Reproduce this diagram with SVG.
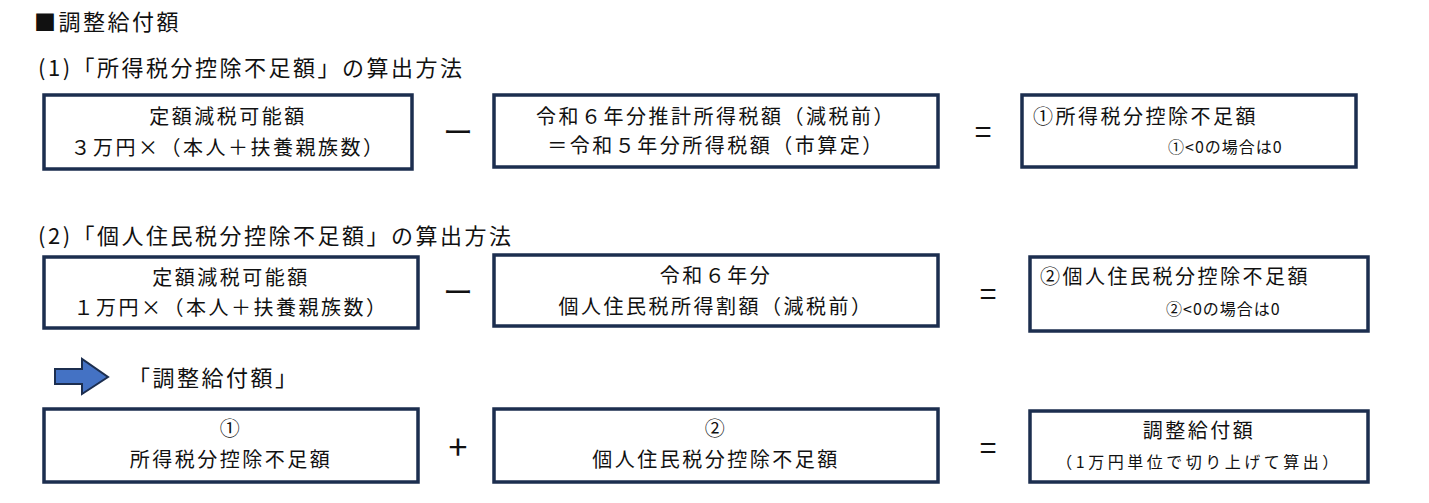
<svg xmlns="http://www.w3.org/2000/svg" width="1429" height="503" viewBox="0 0 1429 503">
<style>
.b{fill:#fff;stroke:#1c2e4f;stroke-width:3.5}
text{font-family:"Noto Sans CJK JP","Noto Sans",sans-serif;font-size:20px;fill:#111;letter-spacing:2.5px}
.h{font-size:22px}
.c{text-anchor:middle}
.s{font-size:16px;letter-spacing:1px}
.w{font-size:16px;letter-spacing:3.5px}
.op{font-size:30px;text-anchor:middle;letter-spacing:0}
</style>
<rect width="1429" height="503" fill="#fff"/>
<text class="h" x="34" y="30">■調整給付額</text>
<text class="h" x="38" y="76">(1)「所得税分控除不足額」の算出方法</text>
<text class="h" x="38" y="244">(2)「個人住民税分控除不足額」の算出方法</text>
<text class="h" x="128" y="386">「調整給付額」</text>
<g id="n1"><rect class="b" x="44" y="95" width="368" height="74"/><text class="c" x="228" y="124">定額減税可能額</text><text class="c" x="228" y="155">３万円×（本人＋扶養親族数）</text></g>
<g id="n2"><rect class="b" x="494" y="95" width="444" height="72"/><text class="c" x="716" y="124">令和６年分推計所得税額（減税前）</text><text class="c" x="716" y="153">＝令和５年分所得税額（市算定）</text></g>
<g id="n3"><rect class="b" x="1022" y="95" width="334" height="72"/><text x="1033" y="124">①所得税分控除不足額</text><text class="s" x="1168" y="153">①&lt;0の場合は0</text></g>
<g id="n4"><rect class="b" x="44" y="257" width="374" height="71"/><text class="c" x="231" y="285">定額減税可能額</text><text class="c" x="231" y="315">１万円×（本人＋扶養親族数）</text></g>
<g id="n5"><rect class="b" x="494" y="255" width="444" height="71"/><text class="c" x="716" y="283">令和６年分</text><text class="c" x="716" y="314">個人住民税所得割額（減税前）</text></g>
<g id="n6"><rect class="b" x="1030" y="257" width="338" height="74"/><text x="1040" y="284">②個人住民税分控除不足額</text><text class="s" x="1166" y="315">②&lt;0の場合は0</text></g>
<g id="n7"><rect class="b" x="44" y="409" width="374" height="73"/><text class="c" x="231" y="436">①</text><text class="c" x="231" y="467">所得税分控除不足額</text></g>
<g id="n8"><rect class="b" x="494" y="409" width="444" height="73"/><text class="c" x="716" y="436">②</text><text class="c" x="716" y="467">個人住民税分控除不足額</text></g>
<g id="n9"><rect class="b" x="1030" y="411" width="338" height="71"/><text class="c" x="1199" y="438">調整給付額</text><text class="c w" x="1199" y="468">（1万円単位で切り上げて算出）</text></g>
<g id="connectors">
<text class="op" x="458" y="143">ー</text><text class="op" x="983" y="143">=</text>
<text class="op" x="458" y="303">ー</text><text class="op" x="988" y="305">=</text>
<text class="op" x="458" y="460" style="font-size:34px">+</text><text class="op" x="988" y="459">=</text>
<path d="M55,369 H82 V359 L108,377 L82,394 V384 H55 Z" fill="#4472c4" stroke="#1c2e4f" stroke-width="2"/>
</g>
</svg>
